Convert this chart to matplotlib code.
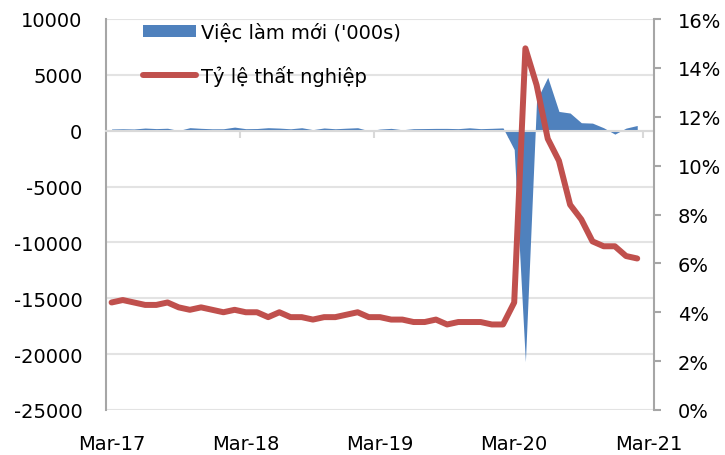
import numpy as np
import matplotlib
matplotlib.use("Agg")
import matplotlib.pyplot as plt
from matplotlib.patches import Patch
from matplotlib.lines import Line2D

plt.rcParams['font.family'] = ['DejaVu Sans']
plt.rcParams['axes.unicode_minus'] = False

# Mar-17 .. Feb-21, monthly
new_jobs = [153, 175, 155, 239, 190, 221, 18, 273, 214, 173,
            176, 324, 182, 196, 270, 235, 173, 268, 96, 245, 176, 227,
            269, 1, 147, 210, 85, 182, 194, 207, 208, 185, 261, 184,
            214, 251, -1683, -20679, 2725, 4781, 1726, 1583, 716, 680, 264, -306,
            233, 468]
unemp = [4.4, 4.5, 4.4, 4.3, 4.3, 4.4, 4.2, 4.1, 4.2, 4.1,
         4.0, 4.1, 4.0, 4.0, 3.8, 4.0, 3.8, 3.8, 3.7, 3.8, 3.8, 3.9,
         4.0, 3.8, 3.8, 3.7, 3.7, 3.6, 3.6, 3.7, 3.5, 3.6, 3.6, 3.6,
         3.5, 3.5, 4.4, 14.8, 13.3, 11.1, 10.2, 8.4, 7.8, 6.9, 6.7, 6.7,
         6.3, 6.2]
tick_labels = ['Mar-17', 'Mar-18', 'Mar-19', 'Mar-20', 'Mar-21']

blue = '#4F81BD'
red = '#C0504D'
grid = '#E3E3E3'
spine = '#A6A6A6'

x = np.arange(len(new_jobs))

fig = plt.figure(figsize=(7.25, 4.56), dpi=100)
ax = fig.add_axes([106/725, 1-411/456, 548/725, 391/456])

ax.fill_between(x, 0, new_jobs, color=blue, lw=0, zorder=2)
ax.set_xlim(-0.5, 48.5)
ax.set_ylim(-25000, 10000)
ax.set_yticks(np.arange(-25000, 10001, 5000))
ax.tick_params(axis='y', length=0, pad=17, labelsize=14)
ax.grid(axis='y', color=grid, lw=1.5)
ax.set_axisbelow(True)

ax.spines['top'].set_visible(False)
ax.spines['right'].set_visible(False)
ax.spines['left'].set_color(spine)
ax.spines['left'].set_linewidth(1.5)
ax.spines['bottom'].set_position(('data', 0))
ax.spines['bottom'].set_color('#D9D9D9')
ax.spines['bottom'].set_linewidth(1.5)
ax.set_xticks([11.5, 23.5, 35.5, 47.5])
ax.set_xticklabels([])
ax.tick_params(axis='x', length=5, width=1.5, color='#D9D9D9', direction='out')

sec = ax.secondary_xaxis('bottom')
sec.set_xticks([0, 12, 24, 36, 48])
sec.set_xticklabels(tick_labels)
sec.tick_params(length=0, pad=17, labelsize=14)
sec.spines['bottom'].set_visible(False)

ax2 = ax.twinx()
ax2.plot(x[:len(unemp)], np.array(unemp) / 100, color=red, lw=4.3,
         solid_capstyle='round', solid_joinstyle='round')
ax2.set_ylim(0, 0.16)
ax2.set_yticks(np.arange(0, 0.161, 0.02))
ax2.set_yticklabels([f'{int(round(v*100))}%' for v in np.arange(0, 0.161, 0.02)])
ax2.tick_params(axis='y', length=5, width=1.5, color=spine, pad=12, labelsize=14)
for s in ['top', 'left', 'bottom']:
    ax2.spines[s].set_visible(False)
ax2.spines['right'].set_color(spine)
ax2.spines['right'].set_linewidth(1.5)

handles = [Patch(facecolor=blue, edgecolor='none'),
           Line2D([], [], color=red, lw=4.3, solid_capstyle='round')]
fig.legend(handles, ["Việc làm mới ('000s)", 'Tỷ lệ thất nghiệp'],
           loc='upper left', bbox_to_anchor=(143/725, 1-24/456),
           frameon=False, fontsize=14, borderpad=0, borderaxespad=0,
           handlelength=2.7, handleheight=0.6, handletextpad=0.3,
           labelspacing=1.15)

fig.savefig('out.png', dpi=100)
